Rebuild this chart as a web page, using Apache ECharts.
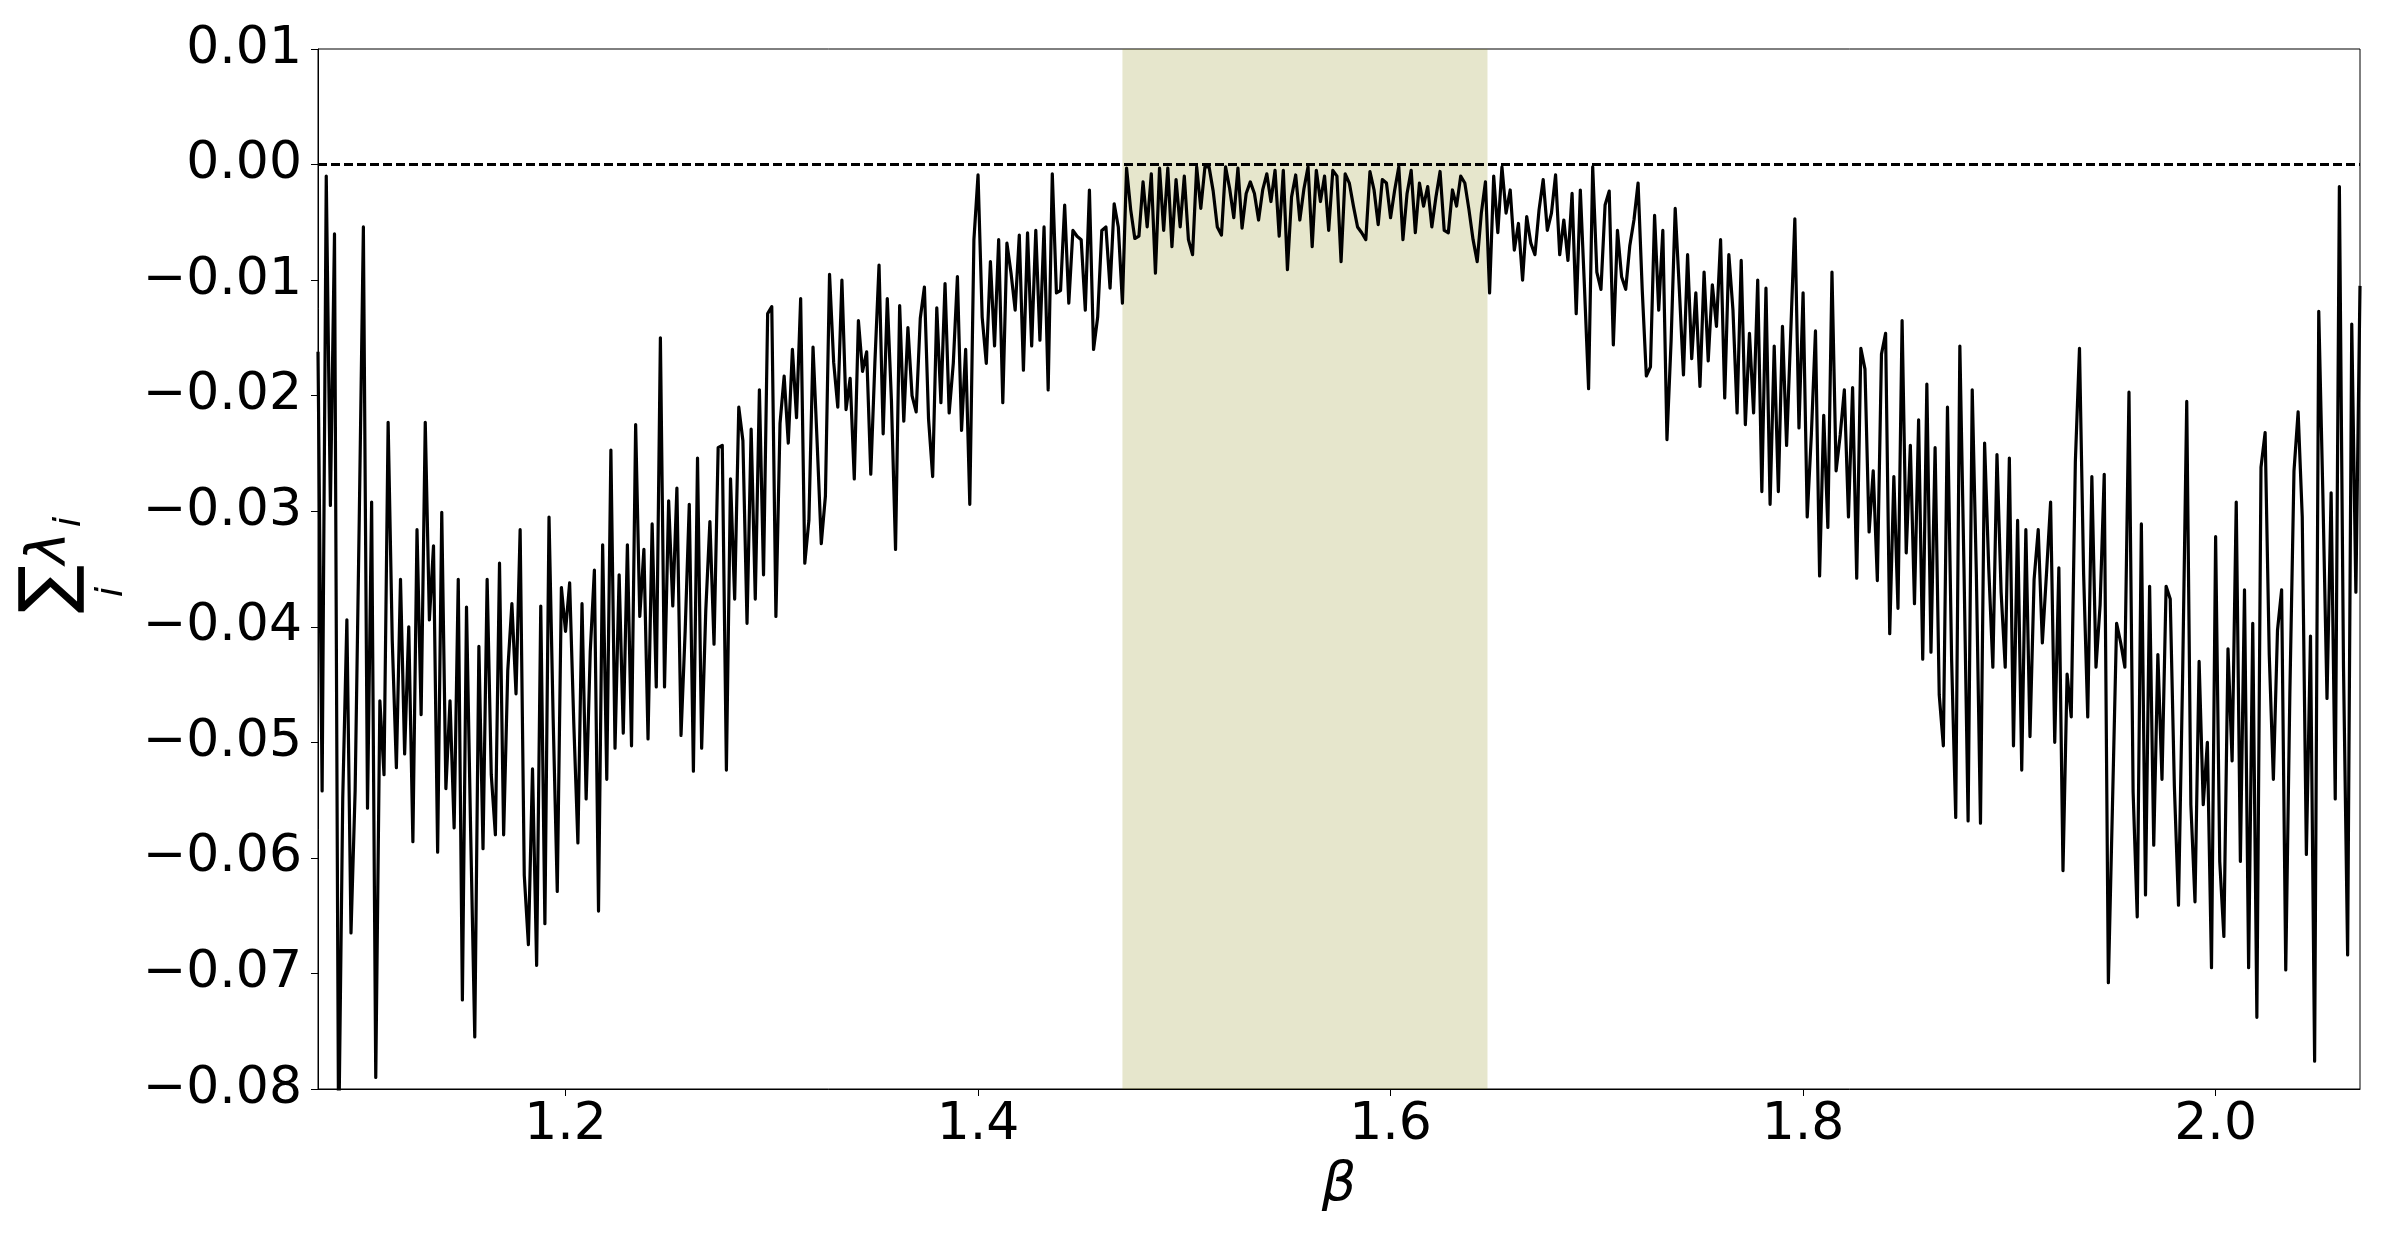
<!DOCTYPE html>
<html>
<head>
<meta charset="utf-8">
<title>Sum of Lyapunov exponents vs beta</title>
<script src="https://cdn.jsdelivr.net/npm/echarts@6.0.0/dist/echarts.min.js"></script>
<style>
  html, body { margin: 0; padding: 0; background: #fff; }
  #chart { width: 2390px; height: 1244px; }
</style>
</head>
<body>
<div id="chart"></div>
<script>
// beta grid: 1.080 .. 2.070, step 0.002
const betaStart = 1.08
const betaStep = 0.002

// sum_i lambda_i, one row per 0.1 of beta
const sumLambda = [
  // 1.08 - 1.18
  -0.0162, -0.0542, -0.0010, -0.0295, -0.0060, -0.0850, -0.0548, -0.0394, -0.0665, -0.0542,
  -0.0307, -0.0054, -0.0557, -0.0292, -0.0790, -0.0464, -0.0528, -0.0223, -0.0412, -0.0522,
  -0.0359, -0.0510, -0.0400, -0.0586, -0.0316, -0.0476, -0.0223, -0.0394, -0.0330, -0.0595,
  -0.0301, -0.0540, -0.0464, -0.0574, -0.0359, -0.0723, -0.0383, -0.0577, -0.0755, -0.0417,
  -0.0592, -0.0359, -0.0528, -0.0580, -0.0345, -0.0580, -0.0438, -0.0380, -0.0458, -0.0316,
  // 1.18 - 1.28
  -0.0615, -0.0675, -0.0523, -0.0693, -0.0382, -0.0657, -0.0305, -0.0479, -0.0629, -0.0366,
  -0.0404, -0.0362, -0.0483, -0.0587, -0.0380, -0.0549, -0.0421, -0.0351, -0.0646, -0.0329,
  -0.0532, -0.0247, -0.0505, -0.0355, -0.0492, -0.0329, -0.0503, -0.0225, -0.0391, -0.0333,
  -0.0497, -0.0311, -0.0452, -0.0150, -0.0452, -0.0291, -0.0382, -0.0280, -0.0494, -0.0404,
  -0.0294, -0.0525, -0.0254, -0.0505, -0.0386, -0.0309, -0.0415, -0.0245, -0.0243, -0.0524,
  // 1.28 - 1.38
  -0.0272, -0.0376, -0.0210, -0.0239, -0.0397, -0.0229, -0.0376, -0.0195, -0.0355, -0.0129,
  -0.0123, -0.0391, -0.0224, -0.0183, -0.0241, -0.0160, -0.0219, -0.0116, -0.0345, -0.0308,
  -0.0158, -0.0241, -0.0328, -0.0287, -0.0095, -0.0171, -0.0210, -0.0100, -0.0212, -0.0185,
  -0.0272, -0.0135, -0.0179, -0.0162, -0.0268, -0.0171, -0.0087, -0.0233, -0.0116, -0.0204,
  -0.0333, -0.0122, -0.0222, -0.0141, -0.0200, -0.0214, -0.0133, -0.0106, -0.0220, -0.0270,
  // 1.38 - 1.48
  -0.0124, -0.0206, -0.0103, -0.0215, -0.0172, -0.0097, -0.0230, -0.0160, -0.0294, -0.0065,
  -0.0009, -0.0132, -0.0172, -0.0084, -0.0157, -0.0065, -0.0206, -0.0068, -0.0094, -0.0126,
  -0.0061, -0.0178, -0.0059, -0.0157, -0.0057, -0.0152, -0.0054, -0.0195, -0.0008, -0.0111,
  -0.0109, -0.0035, -0.0120, -0.0057, -0.0062, -0.0065, -0.0126, -0.0022, -0.0160, -0.0132,
  -0.0057, -0.0054, -0.0107, -0.0034, -0.0054, -0.0120, -0.0003, -0.0039, -0.0064, -0.0062,
  // 1.48 - 1.58
  -0.0015, -0.0054, -0.0008, -0.0094, -0.0003, -0.0057, -0.0003, -0.0071, -0.0013, -0.0054,
  -0.0010, -0.0065, -0.0078, -0.0002, -0.0038, -0.0002, -0.0002, -0.0023, -0.0054, -0.0061,
  -0.0002, -0.0021, -0.0046, -0.0003, -0.0055, -0.0025, -0.0015, -0.0025, -0.0048, -0.0022,
  -0.0008, -0.0032, -0.0005, -0.0062, -0.0005, -0.0091, -0.0028, -0.0009, -0.0048, -0.0021,
  -0.0002, -0.0071, -0.0005, -0.0032, -0.0010, -0.0057, -0.0005, -0.0010, -0.0084, -0.0008,
  // 1.58 - 1.68
  -0.0016, -0.0036, -0.0054, -0.0059, -0.0065, -0.0006, -0.0022, -0.0052, -0.0013, -0.0016,
  -0.0046, -0.0022, -0.0002, -0.0065, -0.0025, -0.0005, -0.0059, -0.0016, -0.0036, -0.0019,
  -0.0054, -0.0028, -0.0006, -0.0057, -0.0059, -0.0022, -0.0036, -0.0010, -0.0016, -0.0039,
  -0.0065, -0.0084, -0.0042, -0.0015, -0.0111, -0.0010, -0.0059, -0.0002, -0.0042, -0.0022,
  -0.0074, -0.0051, -0.0100, -0.0045, -0.0068, -0.0078, -0.0039, -0.0013, -0.0057, -0.0042,
  // 1.68 - 1.78
  -0.0009, -0.0078, -0.0048, -0.0083, -0.0025, -0.0129, -0.0022, -0.0106, -0.0194, -0.0002,
  -0.0093, -0.0108, -0.0035, -0.0023, -0.0156, -0.0057, -0.0097, -0.0108, -0.0070, -0.0048,
  -0.0016, -0.0108, -0.0183, -0.0175, -0.0044, -0.0126, -0.0057, -0.0238, -0.0153, -0.0038,
  -0.0108, -0.0182, -0.0078, -0.0168, -0.0111, -0.0192, -0.0093, -0.0170, -0.0104, -0.0140,
  -0.0065, -0.0202, -0.0078, -0.0126, -0.0215, -0.0083, -0.0225, -0.0146, -0.0215, -0.0100,
  // 1.78 - 1.88
  -0.0283, -0.0107, -0.0294, -0.0157, -0.0283, -0.0140, -0.0243, -0.0146, -0.0047, -0.0228,
  -0.0111, -0.0305, -0.0234, -0.0144, -0.0356, -0.0217, -0.0314, -0.0093, -0.0265, -0.0234,
  -0.0195, -0.0305, -0.0193, -0.0358, -0.0159, -0.0177, -0.0318, -0.0265, -0.0360, -0.0164,
  -0.0146, -0.0406, -0.0270, -0.0384, -0.0135, -0.0336, -0.0243, -0.0380, -0.0221, -0.0428,
  -0.0190, -0.0422, -0.0245, -0.0459, -0.0503, -0.0210, -0.0428, -0.0565, -0.0157, -0.0349,
  // 1.88 - 1.98
  -0.0568, -0.0195, -0.0354, -0.0570, -0.0241, -0.0349, -0.0435, -0.0251, -0.0370, -0.0435,
  -0.0254, -0.0503, -0.0308, -0.0524, -0.0316, -0.0495, -0.0359, -0.0316, -0.0414, -0.0354,
  -0.0292, -0.0500, -0.0349, -0.0611, -0.0441, -0.0478, -0.0257, -0.0159, -0.0354, -0.0478,
  -0.0270, -0.0435, -0.0381, -0.0268, -0.0708, -0.0554, -0.0397, -0.0414, -0.0435, -0.0197,
  -0.0543, -0.0651, -0.0311, -0.0632, -0.0365, -0.0589, -0.0424, -0.0532, -0.0365, -0.0376,
  // 1.98 - 2.07
  -0.0538, -0.0641, -0.0443, -0.0205, -0.0554, -0.0638, -0.0430, -0.0554, -0.0500, -0.0695,
  -0.0322, -0.0603, -0.0668, -0.0419, -0.0516, -0.0292, -0.0603, -0.0368, -0.0695, -0.0397,
  -0.0738, -0.0262, -0.0232, -0.0424, -0.0532, -0.0403, -0.0368, -0.0697, -0.0457, -0.0265,
  -0.0214, -0.0305, -0.0597, -0.0408, -0.0776, -0.0127, -0.0286, -0.0462, -0.0284, -0.0549,
  -0.0019, -0.0435, -0.0684, -0.0138, -0.0370, -0.0105
]

const xTicks = [1.2, 1.4, 1.6, 1.8, 2.0]
const xRange = [1.08, 2.07]
const yRange = [-0.08, 0.01]
const plateau = [1.47, 1.647]

const FONT = 'DejaVu Sans'

const points = sumLambda.map((v, i) => [+(betaStart + i * betaStep).toFixed(3), v])

const chart = echarts.init(document.getElementById('chart'))

const option = {
  animation: false,
  backgroundColor: '#fff',
  grid: {
    left: 318,
    right: 30,
    top: 49,
    bottom: 155,
    show: true,
    borderColor: '#000',
    borderWidth: 1,
    containLabel: false
  },
  xAxis: {
    type: 'value',
    min: xRange[0],
    max: xRange[1],
    name: 'β',
    nameLocation: 'middle',
    nameGap: 70,
    nameTextStyle: { fontFamily: FONT, fontSize: 54, fontStyle: 'italic', color: '#000' },
    axisLine: { show: true, onZero: false, lineStyle: { color: '#000', width: 1 } },
    axisTick: { show: true, length: 7, lineStyle: { color: '#000', width: 1 }, customValues: xTicks },
    axisLabel: {
      fontFamily: FONT,
      fontSize: 52,
      color: '#000',
      margin: 10,
      customValues: xTicks,
      formatter: (v) => v.toFixed(1)
    },
    splitLine: { show: false }
  },
  yAxis: {
    type: 'value',
    min: yRange[0],
    max: yRange[1],
    interval: 0.01,
    axisLine: { show: true, onZero: false, lineStyle: { color: '#000', width: 1 } },
    axisTick: { show: true, length: 7, lineStyle: { color: '#000', width: 1 } },
    axisLabel: {
      fontFamily: FONT,
      fontSize: 52,
      color: '#000',
      margin: 16,
      formatter: (v) => (Math.abs(v) < 1e-9 ? '0.00' : v.toFixed(2).replace('-', '\u2212'))
    },
    splitLine: { show: false }
  },
  graphic: [
    {
      type: 'group',
      x: 15,
      y: 614,
      rotation: Math.PI / 2,
      children: [
        { type: 'text', x: 25, y: 36, style: { text: '∑', font: '72px "DejaVu Sans"', fill: '#000', align: 'center', verticalAlign: 'middle' } },
        { type: 'text', x: 22, y: 97, style: { text: 'i', font: 'italic 38px "DejaVu Sans"', fill: '#000', align: 'center', verticalAlign: 'middle' } },
        { type: 'text', x: 66, y: 36, style: { text: 'λ', font: 'italic 55px "DejaVu Sans"', fill: '#000', align: 'center', verticalAlign: 'middle' } },
        { type: 'text', x: 92, y: 55, style: { text: 'i', font: 'italic 38px "DejaVu Sans"', fill: '#000', align: 'center', verticalAlign: 'middle' } }
      ]
    }
  ],
  series: [
    {
      // shaded beta window
      type: 'line',
      data: [],
      z: 1,
      silent: true,
      markArea: {
        silent: true,
        itemStyle: { color: 'rgba(128,128,0,0.2)' },
        data: [[{ xAxis: plateau[0] }, { xAxis: plateau[1] }]]
      }
    },
    {
      type: 'line',
      data: points,
      z: 3,
      symbol: 'none',
      clip: true,
      lineStyle: { color: '#000', width: 3.2, join: 'round' },
      markLine: {
        silent: true,
        symbol: ['none', 'none'],
        label: { show: false },
        lineStyle: { color: '#000', width: 2.8, type: [9, 4] },
        data: [{ yAxis: 0 }]
      }
    }
  ]
}

chart.setOption(option)
</script>
</body>
</html>
